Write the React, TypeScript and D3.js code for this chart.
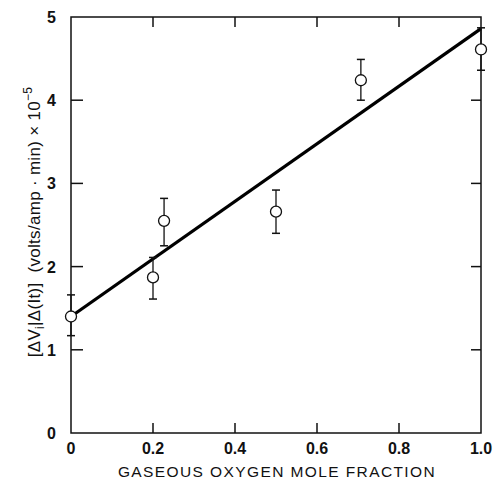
import React from "react";
import * as d3 from "d3";

const xValues = [0, 0.2, 0.227, 0.5, 0.707, 1.0];
const yValues = [1.4, 1.87, 2.55, 2.66, 4.24, 4.61];
const yLow = [1.17, 1.61, 2.25, 2.4, 4.0, 4.36];
const yHigh = [1.66, 2.11, 2.82, 2.92, 4.49, 4.87];
const fitLine = [
  { x: 0, y: 1.4 },
  { x: 1.0, y: 4.86 },
];
const xTicks = [0, 0.2, 0.4, 0.6, 0.8, 1.0];
const xTickLabels = ["0", "0.2", "0.4", "0.6", "0.8", "1.0"];
const yTicks = [0, 1, 2, 3, 4, 5];

export default function App() {
  const W = 496;
  const H = 487;
  const left = 71;
  const right = 481;
  const top = 17;
  const bottom = 433;
  const x = d3.scaleLinear().domain([0, 1]).range([left, right]);
  const y = d3.scaleLinear().domain([0, 5]).range([bottom, top]);
  const line = d3
    .line<{ x: number; y: number }>()
    .x((d) => x(d.x))
    .y((d) => y(d.y));
  const font = "'Liberation Sans', Arial, sans-serif";
  const tickLen = 10;
  return (
    <svg
      width={W}
      height={H}
      style={{ position: "absolute", left: 0, top: 0, background: "#fff" }}
      fontFamily={font}
    >
      <rect x={0} y={0} width={W} height={H} fill="#fff" />
      <rect
        x={left}
        y={top}
        width={right - left}
        height={bottom - top}
        fill="none"
        stroke="#111"
        strokeWidth={1.5}
      />
      {xTicks.slice(1, -1).map((t) => (
        <g key={"xt" + t}>
          <line x1={x(t)} x2={x(t)} y1={bottom} y2={bottom - tickLen} stroke="#111" strokeWidth={1.5} />
          <line x1={x(t)} x2={x(t)} y1={top} y2={top + tickLen} stroke="#111" strokeWidth={1.5} />
        </g>
      ))}
      {yTicks.slice(1, -1).map((t) => (
        <g key={"yt" + t}>
          <line x1={left} x2={left + tickLen + 2} y1={y(t)} y2={y(t)} stroke="#111" strokeWidth={1.5} />
          <line x1={right} x2={right - tickLen} y1={y(t)} y2={y(t)} stroke="#111" strokeWidth={1.5} />
        </g>
      ))}
      {xTicks.map((t, i) => (
        <text
          key={"xl" + t}
          x={x(t)}
          y={bottom + 21}
          textAnchor="middle"
          fontSize={16}
          fontWeight="bold"
          fill="#111"
        >
          {xTickLabels[i]}
        </text>
      ))}
      {yTicks.map((t) => (
        <text
          key={"yl" + t}
          x={left - 15}
          y={y(t) + 6}
          textAnchor="end"
          fontSize={16}
          fontWeight="bold"
          fill="#111"
        >
          {t}
        </text>
      ))}
      <text
        x={(left + right) / 2 + 1}
        y={477}
        textAnchor="middle"
        fontSize={15.5}
        letterSpacing={1.4}
        fill="#111"
      >
        GASEOUS OXYGEN MOLE FRACTION
      </text>
      <text
        transform={`translate(40, 222) rotate(-90)`}
        textAnchor="middle"
        fontSize={17}
        letterSpacing={0.3}
        fill="#111"
        style={{ whiteSpace: "pre" }}
      >
        <tspan>[ΔV</tspan>
        <tspan fontSize={12} dy={4}>i</tspan>
        <tspan dy={-4}>{"|Δ(It)]  (volts/amp · min) × 10"}</tspan>
        <tspan fontSize={12} dy={-8}>−5</tspan>
      </text>
      <path d={line(fitLine) || ""} fill="none" stroke="#000" strokeWidth={3.2} />
      {xValues.map((xv, i) => (
        <g key={"pt" + i}>
          <line x1={x(xv)} x2={x(xv)} y1={y(yLow[i])} y2={y(yHigh[i])} stroke="#111" strokeWidth={1.3} />
          <line x1={x(xv) - 4} x2={x(xv) + 4} y1={y(yLow[i])} y2={y(yLow[i])} stroke="#111" strokeWidth={1.5} />
          <line x1={x(xv) - 4} x2={x(xv) + 4} y1={y(yHigh[i])} y2={y(yHigh[i])} stroke="#111" strokeWidth={1.5} />
          <circle cx={x(xv)} cy={y(yValues[i])} r={5.5} fill="#fff" stroke="#111" strokeWidth={1.3} />
        </g>
      ))}
    </svg>
  );
}
